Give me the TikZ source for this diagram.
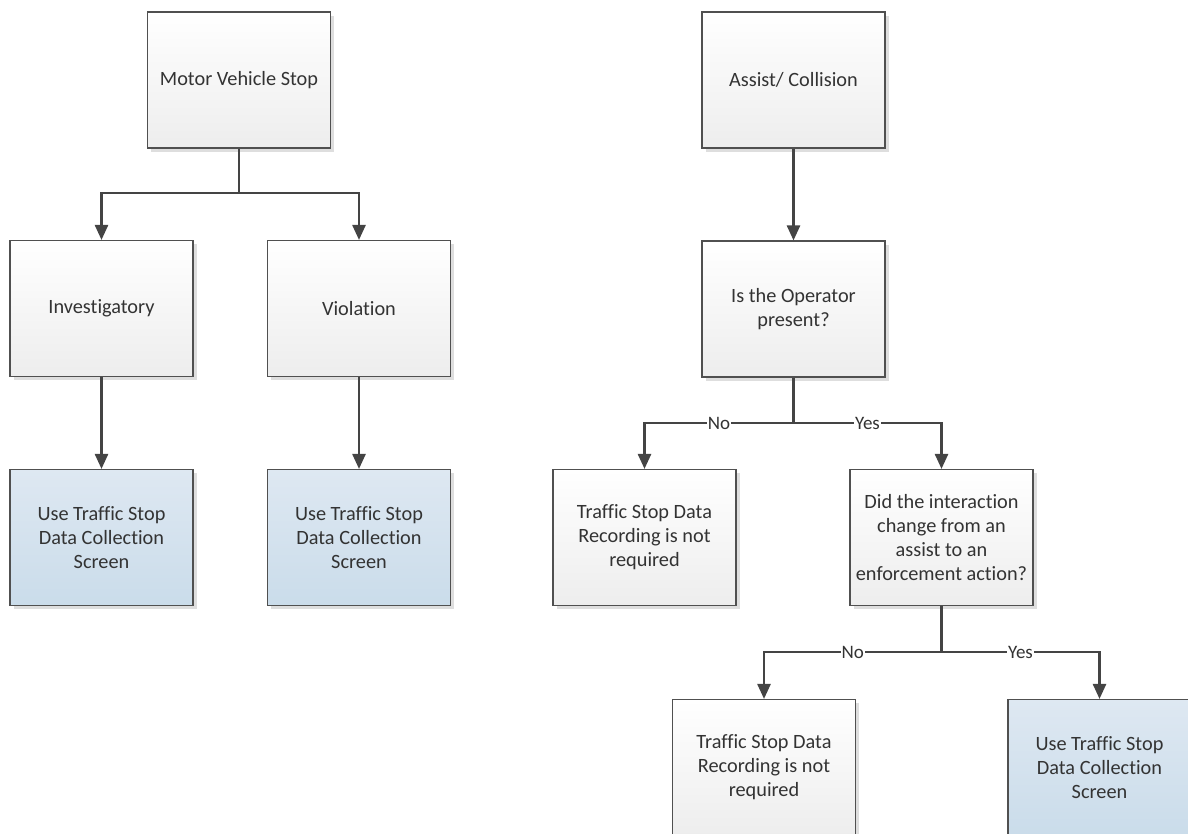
\documentclass[tikz,border=0pt]{standalone}
\usepackage{fontspec}
\setmainfont{Carlito}[RawFeature={-liga}]
\usetikzlibrary{arrows.meta,shadows}
\definecolor{txt}{HTML}{333333}
\definecolor{line}{HTML}{444444}
\definecolor{bord}{HTML}{505050}
\tikzset{
  box/.style={draw=bord, line width=1.1pt, minimum width=183pt, minimum height=136pt,
    align=center, text=txt, font=\fontsize{20.3}{24}\selectfont, inner sep=4pt,
    drop shadow={shadow xshift=3.5pt, shadow yshift=-3.5pt, fill=black!13, opacity=1}},
  graybox/.style={box, top color=white, bottom color=black!7},
  bluebox/.style={box, top color={rgb,255:red,222;green,232;blue,242}, bottom color={rgb,255:red,202;green,220;blue,234}},
  arr/.style={draw=line, line width=2.5pt, -{Triangle[width=13pt,length=15pt]}},
  conn/.style={draw=line, line width=2.5pt},
  lbl/.style={fill=white, text=txt, inner sep=1pt, font=\fontsize{19}{22}\selectfont}
}
\begin{document}
\begin{tikzpicture}[x=1pt,y=-1pt]
\useasboundingbox (0,0) rectangle (1188,833);
% left tree
\node[graybox] (mvs) at (239,80) {Motor Vehicle Stop};
\node[graybox] (inv) at (101.5,308.5) {Investigatory};
\node[graybox] (vio) at (359,308.5) {Violation};
\node[bluebox] (u1) at (101.5,537.5) {Use Traffic Stop\\Data Collection\\Screen};
\node[bluebox] (u2) at (359,537.5) {Use Traffic Stop\\Data Collection\\Screen};
\coordinate (j1) at (239,193);
\draw[conn] (mvs.south) -- (j1);
\draw[arr] (j1) -| (inv.north);
\draw[arr] (j1) -| (vio.north);
\draw[arr] (inv.south) -- (u1.north);
\draw[arr] (vio.south) -- (u2.north);
% right tree
\node[graybox] (ac) at (793.5,80) {Assist/ Collision};
\node[graybox] (op) at (793.5,309) {Is the Operator\\present?};
\node[graybox] (nr1) at (644.5,537.5) {Traffic Stop Data\\Recording is not\\required};
\node[graybox] (did) at (941.5,537.5) {Did the interaction\\change from an\\assist to an\\enforcement action?};
\node[graybox] (nr2) at (764,767.5) {Traffic Stop Data\\Recording is not\\required};
\node[bluebox] (u3) at (1099.5,767.5) {Use Traffic Stop\\Data Collection\\Screen};
\draw[arr] (ac.south) -- (op.north);
\coordinate (j2) at (793.5,423);
\draw[conn] (op.south) -- (j2);
\draw[arr] (j2) -| node[lbl,pos=0.25] {No} (nr1.north);
\draw[arr] (j2) -| node[lbl,pos=0.25] {Yes} (did.north);
\coordinate (j3) at (941.5,652);
\draw[conn] (did.south) -- (j3);
\draw[arr] (j3) -| node[lbl,pos=0.25] {No} (nr2.north);
\draw[arr] (j3) -| node[lbl,pos=0.25] {Yes} (u3.north);
\end{tikzpicture}
\end{document}
